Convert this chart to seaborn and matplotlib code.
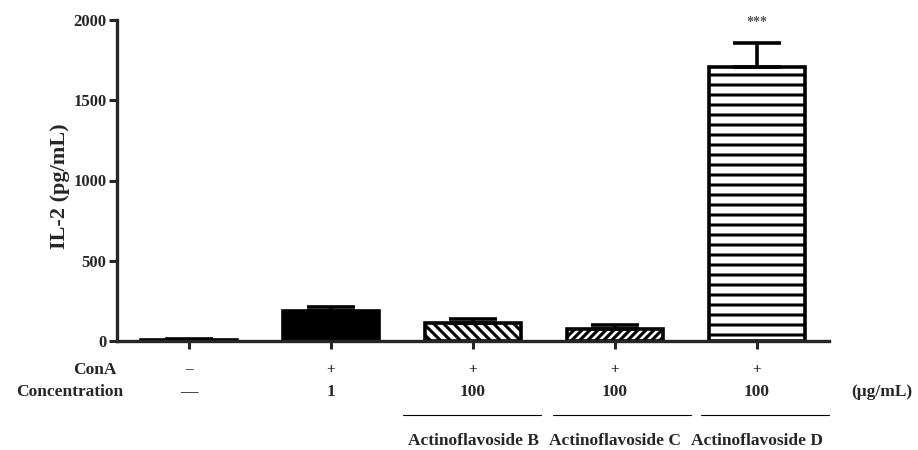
import matplotlib
matplotlib.use("Agg")
import matplotlib.pyplot as plt
import seaborn as sns

groups = ["Control", "ConA", "Actinoflavoside B", "Actinoflavoside C", "Actinoflavoside D"]
means = [5, 189, 114, 75, 1709]
errors = [8, 25, 23, 25, 149]
hatches = ["", "", "\\\\\\\\", "/////", "--"]
fills = ["white", "black", "white", "white", "white"]
cona_row = ["\u2013", "+", "+", "+", "+"]
conc_row = ["\u2014", "1", "100", "100", "100"]
compound_names = ["Actinoflavoside B", "Actinoflavoside C", "Actinoflavoside D"]
yticks = [0, 500, 1000, 1500, 2000]

# render at 120 dpi so hatch spacing matches; k keeps sizes in pixels as at 100 dpi
DPI = 120
k = 100 / DPI

sns.set_style("ticks")
plt.rcParams["font.family"] = ["Liberation Serif", "DejaVu Serif"]
plt.rcParams["font.weight"] = "bold"
plt.rcParams["hatch.linewidth"] = 2.2 * k
plt.rcParams["hatch.color"] = "black"

fig = plt.figure(figsize=(918 / DPI, 450 / DPI), dpi=DPI)
ax = fig.add_axes([117 / 918, 109 / 450, (829 - 117) / 918, (341 - 20) / 450])

sns.barplot(x=groups, y=means, ax=ax, width=0.67, errorbar=None,
            palette=fills, hue=groups, legend=False, edgecolor="black", linewidth=2.6 * k)

for patch, h in zip(ax.patches, hatches):
    patch.set_hatch(h)

xs = [p.get_x() + p.get_width() / 2 for p in ax.patches]
ax.errorbar(xs, means, yerr=[[0] * len(errors), errors], fmt="none",
            ecolor="black", elinewidth=2.6 * k, capsize=17 * k, capthick=2.6 * k, zorder=1)

ax.text(xs[4], means[4] + errors[4] + 125, "***", ha="center", va="center",
        fontsize=10 * k, color="#555555")

ax.set_xlim(-0.507, 4.507)
ax.set_ylim(0, 2000)
ax.set_yticks(yticks)
ax.set_yticklabels([str(t) for t in yticks], fontsize=12 * k, fontweight="bold")
ax.set_xticks(range(len(groups)))
ax.set_xticklabels([])
ax.tick_params(axis="both", width=2.2 * k, length=6 * k, direction="out", pad=1.5 * k)
ax.set_ylabel("IL-2 (pg/mL)", fontsize=16 * k, fontweight="bold")
ax.yaxis.set_label_coords(-0.066, 0.483)
sns.despine(ax=ax)
ax.spines["left"].set_linewidth(2.4 * k)
ax.spines["bottom"].set_linewidth(2.4 * k)

# table rows under the axis
trans = ax.get_xaxis_transform()
fs = 12.5 * k
ax.text(-0.507, -0.09, "ConA", transform=trans, ha="right", va="center", fontsize=fs)
ax.text(-0.46, -0.16, "Concentration", transform=trans, ha="right", va="center", fontsize=fs)
for i in range(len(groups)):
    ax.text(i, -0.09, cona_row[i], transform=trans, ha="center", va="center", fontsize=11 * k)
    ax.text(i, -0.16, conc_row[i], transform=trans, ha="center", va="center", fontsize=fs)
ax.text(4.88, -0.16, "(\u03bcg/mL)", transform=trans, ha="center", va="center", fontsize=fs)

line_spans = [(1.507, 2.479), (2.563, 3.535), (3.605, 4.507)]
for (x0, x1), name, xc in zip(line_spans, compound_names, xs[2:]):
    ax.plot([x0, x1], [-0.23, -0.23], transform=trans,
            color="black", linewidth=0.8 * k, clip_on=False)
    ax.text(xc, -0.31, name, transform=trans, ha="center", va="center", fontsize=fs)

fig.savefig("out.png", dpi=DPI)
